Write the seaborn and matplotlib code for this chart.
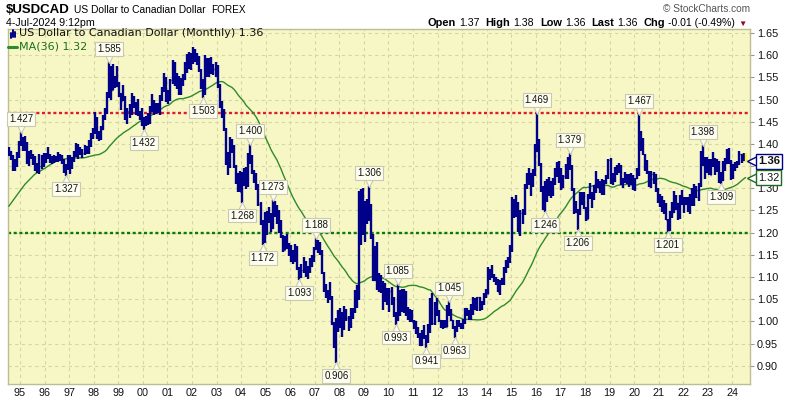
import numpy as np
import pandas as pd
import matplotlib
matplotlib.use("Agg")
import matplotlib.pyplot as plt
import matplotlib.transforms as mtransforms
from matplotlib.lines import Line2D
import seaborn as sns

# month-end closes Jul 1991 - Jun 1994, only used to warm up the 36-month average
warmup_close = [
    1.148, 1.141, 1.130, 1.127, 1.135, 1.156,
    1.182, 1.184, 1.189, 1.193, 1.201, 1.196, 1.190, 1.193, 1.245, 1.245, 1.267, 1.271,
    1.275, 1.250, 1.255, 1.266, 1.272, 1.280, 1.282, 1.316, 1.325, 1.320, 1.329, 1.324,
    1.335, 1.356, 1.383, 1.381, 1.380, 1.383,
]

# monthly bars shown on the chart, Jul 1994 - Jul 2024 (one row per year)
close = [
    1.384, 1.370, 1.349, 1.354, 1.374, 1.402,
    1.405, 1.392, 1.402, 1.359, 1.372, 1.372, 1.357, 1.345, 1.341, 1.350, 1.356, 1.366,
    1.373, 1.375, 1.362, 1.363, 1.368, 1.365, 1.373, 1.369, 1.363, 1.342, 1.349, 1.369,
    1.350, 1.367, 1.373, 1.397, 1.380, 1.381, 1.379, 1.390, 1.384, 1.404, 1.418, 1.429,
    1.458, 1.418, 1.417, 1.433, 1.461, 1.472, 1.509, 1.569, 1.522, 1.545, 1.539, 1.531,
    1.515, 1.497, 1.508, 1.459, 1.474, 1.474, 1.504, 1.493, 1.469, 1.471, 1.467, 1.443,
    1.450, 1.450, 1.452, 1.481, 1.496, 1.479, 1.487, 1.474, 1.506, 1.524, 1.544, 1.500,
    1.503, 1.545, 1.577, 1.535, 1.545, 1.518, 1.535, 1.547, 1.579, 1.587, 1.583, 1.593,
    1.601, 1.596, 1.594, 1.567, 1.530, 1.516, 1.587, 1.558, 1.587, 1.561, 1.568, 1.572,
    1.532, 1.486, 1.469, 1.434, 1.370, 1.351, 1.404, 1.386, 1.350, 1.318, 1.300, 1.292,
    1.327, 1.335, 1.309, 1.372, 1.364, 1.336, 1.330, 1.303, 1.265, 1.221, 1.190, 1.203,
    1.240, 1.231, 1.211, 1.257, 1.256, 1.226, 1.224, 1.190, 1.161, 1.180, 1.168, 1.163,
    1.141, 1.136, 1.167, 1.118, 1.102, 1.117, 1.131, 1.107, 1.116, 1.124, 1.143, 1.166,
    1.178, 1.172, 1.153, 1.109, 1.070, 1.064, 1.067, 1.055, 0.995, 0.945, 1.000, 0.988,
    1.005, 0.983, 1.026, 1.007, 0.989, 1.019, 1.024, 1.062, 1.063, 1.220, 1.241, 1.220,
    1.231, 1.274, 1.260, 1.193, 1.093, 1.163, 1.078, 1.095, 1.071, 1.082, 1.056, 1.047,
    1.068, 1.052, 1.015, 1.015, 1.045, 1.064, 1.029, 1.066, 1.029, 1.020, 1.024, 0.998,
    1.000, 0.975, 0.970, 0.946, 0.969, 0.964, 0.956, 0.979, 1.048, 0.997, 1.021, 1.019,
    1.003, 0.989, 0.998, 0.987, 1.035, 1.018, 1.003, 0.986, 0.983, 0.999, 0.993, 0.995,
    0.998, 1.031, 1.016, 1.008, 1.036, 1.051, 1.027, 1.054, 1.031, 1.043, 1.062, 1.062,
    1.114, 1.108, 1.105, 1.096, 1.084, 1.067, 1.090, 1.087, 1.120, 1.127, 1.144, 1.160,
    1.271, 1.251, 1.267, 1.207, 1.244, 1.249, 1.308, 1.316, 1.334, 1.308, 1.336, 1.384,
    1.401, 1.353, 1.299, 1.255, 1.310, 1.292, 1.306, 1.312, 1.312, 1.341, 1.343, 1.343,
    1.301, 1.328, 1.330, 1.365, 1.350, 1.297, 1.247, 1.250, 1.248, 1.290, 1.290, 1.256,
    1.230, 1.283, 1.289, 1.283, 1.296, 1.315, 1.301, 1.305, 1.291, 1.315, 1.328, 1.364,
    1.312, 1.316, 1.335, 1.343, 1.350, 1.309, 1.319, 1.331, 1.324, 1.317, 1.328, 1.299,
    1.323, 1.342, 1.407, 1.392, 1.378, 1.358, 1.339, 1.305, 1.332, 1.332, 1.298, 1.274,
    1.279, 1.271, 1.257, 1.229, 1.207, 1.239, 1.247, 1.262, 1.267, 1.238, 1.278, 1.264,
    1.271, 1.268, 1.250, 1.284, 1.264, 1.288, 1.281, 1.313, 1.383, 1.362, 1.345, 1.354,
    1.330, 1.364, 1.352, 1.355, 1.357, 1.324, 1.319, 1.351, 1.358, 1.387, 1.357, 1.325,
    1.344, 1.357, 1.354, 1.377, 1.363, 1.368, 1.361,
]
high = [
    1.392, 1.385, 1.375, 1.366, 1.381, 1.407,
    1.427, 1.415, 1.418, 1.405, 1.383, 1.386, 1.378, 1.373, 1.357, 1.378, 1.375, 1.380,
    1.380, 1.392, 1.378, 1.372, 1.375, 1.373, 1.381, 1.378, 1.374, 1.365, 1.355, 1.374,
    1.375, 1.371, 1.385, 1.402, 1.399, 1.394, 1.389, 1.397, 1.395, 1.409, 1.425, 1.437,
    1.471, 1.460, 1.430, 1.440, 1.465, 1.480, 1.516, 1.585, 1.575, 1.580, 1.552, 1.575,
    1.540, 1.515, 1.533, 1.509, 1.482, 1.490, 1.514, 1.508, 1.495, 1.501, 1.475, 1.480,
    1.461, 1.462, 1.470, 1.485, 1.512, 1.500, 1.493, 1.492, 1.511, 1.529, 1.560, 1.550,
    1.521, 1.546, 1.590, 1.585, 1.560, 1.552, 1.548, 1.557, 1.585, 1.602, 1.607, 1.606,
    1.619, 1.613, 1.605, 1.598, 1.568, 1.547, 1.600, 1.593, 1.593, 1.595, 1.580, 1.584,
    1.578, 1.536, 1.497, 1.478, 1.435, 1.382, 1.416, 1.412, 1.397, 1.353, 1.334, 1.338,
    1.336, 1.346, 1.347, 1.380, 1.400, 1.374, 1.342, 1.334, 1.310, 1.269, 1.229, 1.247,
    1.248, 1.258, 1.245, 1.273, 1.272, 1.262, 1.252, 1.229, 1.194, 1.193, 1.198, 1.176,
    1.172, 1.160, 1.175, 1.169, 1.123, 1.130, 1.146, 1.136, 1.125, 1.142, 1.150, 1.168,
    1.188, 1.183, 1.180, 1.160, 1.112, 1.084, 1.071, 1.088, 1.057, 0.999, 1.007, 1.026,
    1.031, 1.022, 1.035, 1.027, 1.013, 1.031, 1.031, 1.070, 1.081, 1.293, 1.299, 1.300,
    1.272, 1.277, 1.306, 1.264, 1.198, 1.169, 1.178, 1.110, 1.105, 1.092, 1.086, 1.075,
    1.075, 1.078, 1.054, 1.021, 1.085, 1.070, 1.073, 1.072, 1.068, 1.032, 1.027, 1.026,
    1.003, 1.001, 0.987, 0.974, 0.980, 0.991, 0.970, 0.995, 1.053, 1.063, 1.044, 1.052,
    1.025, 1.004, 1.003, 1.004, 1.036, 1.045, 1.028, 1.004, 0.990, 1.003, 1.004, 0.996,
    1.006, 1.031, 1.031, 1.026, 1.040, 1.055, 1.053, 1.055, 1.055, 1.047, 1.064, 1.073,
    1.123, 1.118, 1.128, 1.108, 1.101, 1.095, 1.093, 1.099, 1.122, 1.139, 1.146, 1.173,
    1.280, 1.275, 1.284, 1.270, 1.250, 1.254, 1.310, 1.335, 1.346, 1.335, 1.343, 1.399,
    1.469, 1.412, 1.357, 1.306, 1.316, 1.320, 1.325, 1.317, 1.324, 1.346, 1.359, 1.361,
    1.346, 1.329, 1.354, 1.370, 1.379, 1.352, 1.300, 1.272, 1.253, 1.292, 1.292, 1.292,
    1.258, 1.288, 1.313, 1.292, 1.307, 1.338, 1.321, 1.316, 1.320, 1.318, 1.330, 1.366,
    1.368, 1.335, 1.347, 1.352, 1.357, 1.352, 1.323, 1.336, 1.332, 1.333, 1.334, 1.330,
    1.324, 1.345, 1.467, 1.430, 1.414, 1.378, 1.364, 1.340, 1.339, 1.337, 1.333, 1.300,
    1.287, 1.283, 1.273, 1.268, 1.230, 1.249, 1.269, 1.295, 1.285, 1.268, 1.286, 1.296,
    1.280, 1.280, 1.280, 1.288, 1.300, 1.310, 1.305, 1.313, 1.385, 1.398, 1.371, 1.370,
    1.365, 1.366, 1.381, 1.369, 1.366, 1.362, 1.337, 1.362, 1.368, 1.389, 1.390, 1.363,
    1.354, 1.360, 1.362, 1.385, 1.377, 1.379, 1.380,
]
low = [
    1.373, 1.364, 1.340, 1.338, 1.349, 1.368,
    1.395, 1.384, 1.385, 1.354, 1.351, 1.365, 1.352, 1.338, 1.335, 1.333, 1.344, 1.349,
    1.358, 1.366, 1.356, 1.354, 1.356, 1.359, 1.360, 1.361, 1.354, 1.334, 1.327, 1.341,
    1.332, 1.343, 1.360, 1.370, 1.366, 1.376, 1.368, 1.376, 1.378, 1.377, 1.394, 1.410,
    1.423, 1.412, 1.407, 1.408, 1.431, 1.455, 1.467, 1.504, 1.500, 1.521, 1.526, 1.529,
    1.505, 1.476, 1.496, 1.455, 1.446, 1.459, 1.465, 1.480, 1.465, 1.463, 1.453, 1.440,
    1.432, 1.440, 1.443, 1.444, 1.473, 1.465, 1.468, 1.470, 1.465, 1.496, 1.517, 1.494,
    1.490, 1.497, 1.536, 1.531, 1.523, 1.510, 1.510, 1.530, 1.543, 1.560, 1.569, 1.567,
    1.580, 1.585, 1.577, 1.563, 1.524, 1.503, 1.510, 1.550, 1.550, 1.557, 1.555, 1.550,
    1.525, 1.480, 1.458, 1.430, 1.352, 1.330, 1.346, 1.380, 1.346, 1.309, 1.291, 1.291,
    1.268, 1.306, 1.299, 1.304, 1.354, 1.332, 1.313, 1.297, 1.260, 1.218, 1.172, 1.176,
    1.195, 1.222, 1.201, 1.208, 1.235, 1.220, 1.200, 1.187, 1.156, 1.160, 1.163, 1.147,
    1.133, 1.130, 1.134, 1.115, 1.093, 1.097, 1.110, 1.100, 1.096, 1.110, 1.123, 1.134,
    1.160, 1.155, 1.150, 1.107, 1.066, 1.052, 1.041, 1.049, 0.993, 0.941, 0.906, 0.977,
    0.985, 0.964, 0.980, 1.000, 0.979, 0.985, 1.005, 1.020, 1.030, 1.048, 1.172, 1.195,
    1.179, 1.219, 1.226, 1.186, 1.091, 1.092, 1.071, 1.067, 1.064, 1.025, 1.044, 1.038,
    1.021, 1.038, 1.011, 0.993, 1.002, 1.013, 1.021, 1.020, 1.013, 1.003, 0.998, 0.998,
    0.984, 0.971, 0.962, 0.944, 0.945, 0.960, 0.941, 0.952, 0.975, 0.993, 0.993, 1.012,
    0.998, 0.985, 0.984, 0.985, 0.987, 1.013, 1.000, 0.982, 0.963, 0.977, 0.988, 0.983,
    0.984, 0.995, 1.013, 1.004, 1.003, 1.014, 1.025, 1.024, 1.023, 1.025, 1.038, 1.053,
    1.062, 1.093, 1.099, 1.088, 1.082, 1.066, 1.060, 1.082, 1.083, 1.109, 1.121, 1.132,
    1.157, 1.233, 1.235, 1.201, 1.192, 1.219, 1.240, 1.299, 1.307, 1.283, 1.303, 1.327,
    1.381, 1.350, 1.291, 1.252, 1.246, 1.270, 1.283, 1.279, 1.282, 1.308, 1.325, 1.311,
    1.296, 1.301, 1.322, 1.321, 1.341, 1.294, 1.241, 1.245, 1.206, 1.240, 1.262, 1.254,
    1.226, 1.230, 1.275, 1.255, 1.273, 1.290, 1.300, 1.290, 1.285, 1.284, 1.309, 1.320,
    1.310, 1.307, 1.315, 1.329, 1.334, 1.307, 1.301, 1.313, 1.310, 1.304, 1.308, 1.297,
    1.295, 1.320, 1.327, 1.385, 1.375, 1.340, 1.333, 1.304, 1.301, 1.310, 1.292, 1.267,
    1.259, 1.247, 1.242, 1.228, 1.201, 1.204, 1.233, 1.245, 1.250, 1.229, 1.230, 1.262,
    1.245, 1.262, 1.247, 1.241, 1.260, 1.260, 1.278, 1.272, 1.303, 1.350, 1.322, 1.335,
    1.330, 1.329, 1.347, 1.331, 1.336, 1.312, 1.309, 1.317, 1.339, 1.354, 1.355, 1.318,
    1.320, 1.340, 1.346, 1.353, 1.357, 1.362, 1.360,
]

# swing highs / lows that carry a value tag on the chart
tag_highs = ["1995-01", "1998-08", "2004-05", "2005-04", "2007-01", "2009-03",
             "2010-05", "2012-06", "2016-01", "2017-05", "2020-03", "2022-10"]
tag_lows = ["1996-11", "2000-01", "2002-06", "2004-01", "2004-11", "2006-05",
            "2007-11", "2010-04", "2011-07", "2012-09", "2016-05", "2017-09",
            "2021-05", "2023-07"]

support = 1.20
resistance = 1.47
year_ticks = list(range(1995, 2025))
price_ticks = [0.90, 0.95, 1.00, 1.05, 1.10, 1.15, 1.20, 1.25, 1.30, 1.35,
               1.40, 1.45, 1.50, 1.55, 1.60, 1.65]

BAR = "#000088"
MA_COL = "#2f8a2a"
BG = "#f7f7c6"
GRID = "#d6d6a4"

# ---------------------------------------------------------------------------
all_close = pd.Series(warmup_close + close)
ma36 = all_close.rolling(36).mean().iloc[len(warmup_close):].reset_index(drop=True)

dates = pd.date_range("1994-07-01", periods=len(close), freq="MS")
df = pd.DataFrame({
    "date": dates,
    "open": [warmup_close[-1]] + close[:-1],
    "high": high,
    "low": low,
    "close": close,
    "ma": ma36.values,
})
df["x"] = df["date"].dt.year + (df["date"].dt.month - 0.5) / 12
df["key"] = df["date"].dt.strftime("%Y-%m")

sns.set_style("white")
plt.rcParams["font.family"] = ["Liberation Sans", "DejaVu Sans"]

W, H = 786, 400
fig = plt.figure(figsize=(W / 100, H / 100), dpi=100)
ax = fig.add_axes([8 / W, 1 - 384 / H, 742 / W, 355 / H])
ax.set_facecolor(BG)

ax.set_xlim(1994.51, 2024.72)
ax.set_ylim(0.859, 1.659)

last_close = df["close"].iloc[-1]
last_ma = df["ma"].iloc[-1]

ax.set_xticks(year_ticks)
ax.set_xticklabels([f"{y % 100:02d}" for y in year_ticks])
ax.set_yticks(price_ticks)
# the tick label hidden behind the last-price tag is left blank, as on the original
ax.set_yticklabels(["" if abs(v - last_close) < 0.02 else f"{v:.2f}" for v in price_ticks])
ax.yaxis.tick_right()
ax.tick_params(axis="y", direction="out", length=3, width=0.8, color="#9a9a7a",
               labelsize=7.8, pad=2, labelcolor="#111111")
ax.tick_params(axis="x", length=0, labelsize=7.8, pad=3, labelcolor="#111111")
ax.grid(True, color=GRID, linestyle=(0, (3, 3)), linewidth=0.8)
for s in ax.spines.values():
    s.set_color("#bdbd92")
    s.set_linewidth(1.0)

# support / resistance
ax.axhline(resistance, color="#e01b30", lw=1.7, ls=(0, (1.3, 1.1)), zorder=2)
ax.axhline(support, color="#0a7a0a", lw=1.7, ls=(0, (1.3, 1.1)), zorder=2)

# moving average
sns.lineplot(data=df, x="x", y="ma", ax=ax, color=MA_COL, lw=1.0, zorder=3)

# OHLC bars
hist = df.iloc[:-1]
last = df.iloc[-1:]
tk = 0.35 / 12
ax.vlines(hist["x"], hist["low"], hist["high"], color=BAR, lw=1.7, zorder=4)
ax.hlines(hist["open"], hist["x"] - tk, hist["x"], color=BAR, lw=1.0, zorder=4)
ax.hlines(hist["close"], hist["x"], hist["x"] + tk, color=BAR, lw=1.0, zorder=4)
ax.vlines(last["x"], last["low"], last["high"], color="#f2f23a", lw=1.7, zorder=4)
ax.hlines(last["open"], last["x"] - tk, last["x"], color="#f2f23a", lw=1.0, zorder=4)
ax.hlines(last["close"], last["x"], last["x"] + tk, color="#f2f23a", lw=1.0, zorder=4)

ax.set_xlabel("")
ax.set_ylabel("")

# value tags on swing points
tag_box = dict(boxstyle="square,pad=0.2", fc="#fdfdf0", ec="#c9c9b0", lw=0.8)
for keys, col, sign, mk in [(tag_highs, "high", 1, "v"), (tag_lows, "low", -1, "^")]:
    for k in keys:
        row = df.loc[df["key"] == k].iloc[0]
        xv, yv = row["x"], row[col]
        tr = mtransforms.offset_copy(ax.transData, fig=fig, x=0, y=4 * sign, units="dots")
        ax.plot([xv], [yv], marker=mk, ms=7, mfc="#fdfdf0", mec="#c9c9b0", mew=0.8,
                transform=tr, zorder=6, clip_on=False)
        ax.annotate(f"{yv:.3f}", (xv, yv), xytext=(0, 13 * sign), textcoords="offset pixels",
                    ha="center", va="center", fontsize=6.9, color="#111111",
                    bbox=tag_box, zorder=7)

# last value tags on the right edge
blend = mtransforms.blended_transform_factory(ax.transAxes, ax.transData)
for val, ec, bold in [(last_close, BAR, True), (last_ma, "#1f6a1f", False)]:
    tr = mtransforms.offset_copy(blend, fig=fig, x=3, y=0, units="dots")
    ax.plot([1.0], [val], marker="<", ms=8, mfc="white", mec=ec, mew=1.0,
            transform=tr, zorder=8, clip_on=False)
    ax.annotate(f"{val:.2f}", (1.0, val), xycoords=blend, xytext=(8, 0),
                textcoords="offset pixels", ha="left", va="center",
                fontsize=8.2 if bold else 7.8, fontweight="bold" if bold else "normal",
                color="#111111", annotation_clip=False, zorder=9,
                bbox=dict(boxstyle="square,pad=0.2", fc="white", ec=ec, lw=1.0))

# legend inside the chart
px = mtransforms.IdentityTransform()
for dx, y0, y1 in [(11, 33, 38), (13, 30, 37), (15, 32, 37)]:
    fig.add_artist(Line2D([dx, dx], [H - y0, H - y1], transform=px, color=BAR, lw=1.4))
fig.add_artist(Line2D([8, 17], [H - 46.5, H - 46.5], transform=px, color=MA_COL, lw=2.2))
fig.text(19, H - 33.5, f"US Dollar to Canadian Dollar (Monthly) {last_close:.2f}",
         transform=px, va="center", ha="left", fontsize=8.0, family="DejaVu Sans", color="#111111")
fig.text(19, H - 46.5, f"MA(36) {last_ma:.2f}", transform=px, va="center",
         ha="left", fontsize=8.0, family="DejaVu Sans", color="#1c6e1c")

# header
fig.canvas.draw()
rend = fig.canvas.get_renderer()


def chain(x, y, pieces):
    for txt, weight, size, col, gap in pieces:
        t = fig.text(x, y, txt, transform=px, ha="left", va="baseline",
                     fontsize=size, fontweight=weight, color=col)
        bb = t.get_window_extent(rend)
        x = bb.x1 + gap


chain(6, H - 13, [("$USDCAD", "bold", 9.5, "black", 4),
                  ("US Dollar to Canadian Dollar", "normal", 7.4, "black", 6),
                  ("FOREX", "normal", 7.2, "black", 0)])
fig.text(6, H - 25.5, "4-Jul-2024 9:12pm", transform=px, ha="left", va="baseline",
         fontsize=7.7, color="black")
fig.text(750, H - 11.5, "\u00a9 StockCharts.com", transform=px, ha="right", va="baseline",
         fontsize=7.3, color="#555555")
chain(428, H - 25.5, [("Open", "bold", 7.9, "black", 3), ("1.37", "normal", 7.6, "black", 6),
                      ("High", "bold", 7.9, "black", 3), ("1.38", "normal", 7.6, "black", 6),
                      ("Low", "bold", 7.9, "black", 3), ("1.36", "normal", 7.6, "black", 6),
                      ("Last", "bold", 7.9, "black", 3), ("1.36", "normal", 7.6, "black", 6),
                      ("Chg", "bold", 7.9, "black", 3),
                      ("-0.01 (-0.49%)", "normal", 7.6, "black", 3),
                      ("\u25bc", "normal", 6.0, "#8b0a2a", 0)])

fig.savefig("out.png", dpi=100, facecolor="white")
